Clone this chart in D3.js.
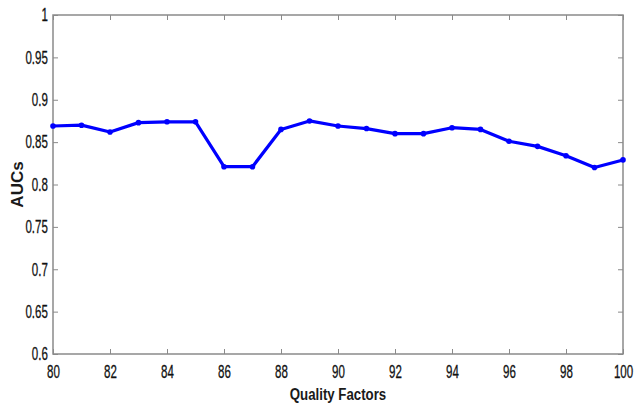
<!DOCTYPE html>
<html>
<head>
<meta charset="utf-8">
<script src="https://cdn.jsdelivr.net/npm/d3@7"></script>
<style>
  body { margin: 0; background: #fff; }
  text { font-family: "Liberation Sans", Arial, sans-serif; }
</style>
</head>
<body>
<div id="chart"></div>
<script>
// quality factors on x, AUC values on y
const qualityFactors = [80, 81, 82, 83, 84, 85, 86, 87, 88, 89, 90, 91, 92, 93, 94, 95, 96, 97, 98, 99, 100];
const aucValues = [0.869, 0.870, 0.862, 0.873, 0.874, 0.874, 0.821, 0.821, 0.865, 0.875, 0.869, 0.866, 0.860, 0.860, 0.867, 0.865, 0.851, 0.845, 0.834, 0.820, 0.829];
const xTicks = [80, 82, 84, 86, 88, 90, 92, 94, 96, 98, 100];
const yTicks = [0.6, 0.65, 0.7, 0.75, 0.8, 0.85, 0.9, 0.95, 1];

const W = 635, H = 403;
const margin = { top: 15, right: 12, bottom: 49, left: 53 };
const width = W - margin.left - margin.right;
const height = H - margin.top - margin.bottom;

const svg = d3.select("#chart")
    .append("svg")
    .attr("width", W)
    .attr("height", H)
    .append("g")
    .attr("transform", `translate(${margin.left},${margin.top})`);

const x = d3.scaleLinear().domain([80, 100]).range([0, width]);
const y = d3.scaleLinear().domain([0.6, 1]).range([height, 0]);

const axisColor = "#8a8a8a";
const tickLen = 5;
// the original picture is squeezed sideways, so the labels are too
const squeeze = "scale(0.64,1)";

// box
svg.append("rect")
    .attr("width", width)
    .attr("height", height)
    .attr("fill", "none")
    .attr("stroke", axisColor)
    .attr("stroke-width", 1.5);

const fmtY = d => String(d);
const styleAxis = g => {
    g.select(".domain").remove();
    g.selectAll(".tick line").attr("stroke", axisColor);
    g.selectAll(".tick text")
        .attr("fill", "#111")
        .attr("stroke", "#111")
        .attr("stroke-width", 0.3)
        .attr("transform", squeeze)
        .style("font-size", "18px");
};

// ticks inward on all four sides
svg.append("g")
    .attr("transform", `translate(0,${height})`)
    .call(d3.axisBottom(x).tickValues(xTicks).tickSize(-tickLen).tickPadding(11))
    .call(styleAxis);

svg.append("g")
    .call(d3.axisTop(x).tickValues(xTicks).tickSize(-tickLen).tickFormat(""))
    .call(styleAxis);

svg.append("g")
    .call(d3.axisLeft(y).tickValues(yTicks).tickSize(-tickLen).tickPadding(8).tickFormat(fmtY))
    .call(styleAxis);

svg.append("g")
    .attr("transform", `translate(${width},0)`)
    .call(d3.axisRight(y).tickValues(yTicks).tickSize(-tickLen).tickFormat(""))
    .call(styleAxis);

// line
const pts = qualityFactors.map((q, i) => ({ q: q, v: aucValues[i] }));

svg.append("path")
    .datum(pts)
    .attr("fill", "none")
    .attr("stroke", "#0000ff")
    .attr("stroke-width", 3.2)
    .attr("stroke-linejoin", "round")
    .attr("d", d3.line().x(d => x(d.q)).y(d => y(d.v)));

svg.selectAll("circle")
    .data(pts)
    .enter()
    .append("circle")
    .attr("cx", d => x(d.q))
    .attr("cy", d => y(d.v))
    .attr("r", 2.8)
    .attr("fill", "#0000ff");

// axis titles
svg.append("text")
    .attr("transform", `translate(${width / 2},${height + 46}) scale(0.78,1)`)
    .attr("text-anchor", "middle")
    .attr("fill", "#1a1a1a")
    .style("font-size", "17px")
    .style("font-weight", "bold")
    .text("Quality Factors");

svg.append("text")
    .attr("transform", `translate(-30,${height / 2}) rotate(-90)`)
    .attr("text-anchor", "middle")
    .attr("fill", "#1a1a1a")
    .style("font-size", "17px")
    .style("font-weight", "bold")
    .text("AUCs");
</script>
</body>
</html>
